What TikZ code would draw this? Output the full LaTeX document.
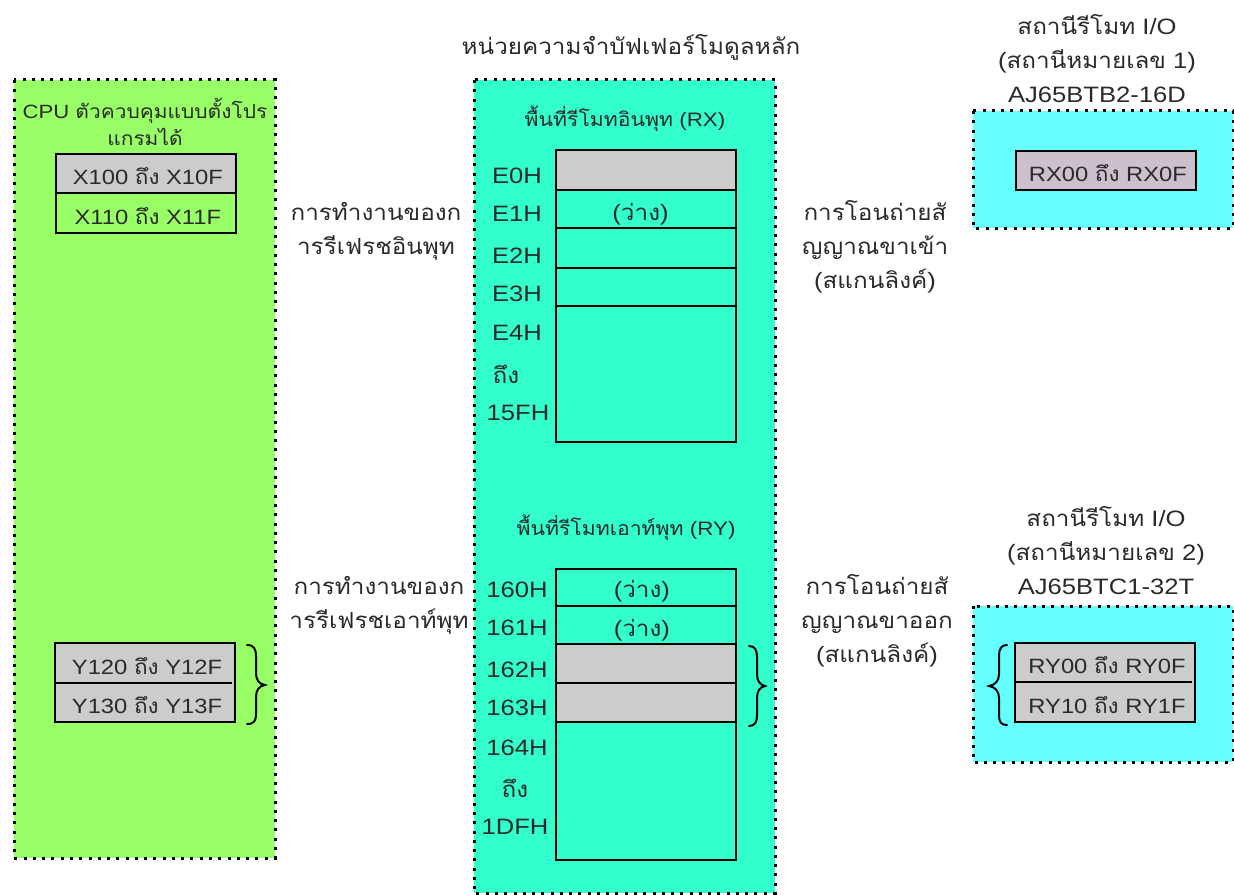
\documentclass[tikz,border=0pt]{standalone}
\usepackage{fontspec}
\setmainfont[FakeStretch=1.15]{Liberation Sans}
\newfontfamily\thaifont[Script=Thai,FakeStretch=1.09]{Loma}
\newcommand{\tf}[1]{{\thaifont #1}}
\definecolor{panelgreen}{HTML}{99FF66}
\definecolor{panelteal}{HTML}{33FFCC}
\definecolor{panelcyan}{HTML}{66FFFF}
\definecolor{cellgray}{HTML}{CCCCCC}
\definecolor{cellmauve}{HTML}{CCC0CC}
\definecolor{ink}{HTML}{2A2A2A}
\newcommand{\bigtxt}{\fontsize{16.7}{25.5}\selectfont}
\newcommand{\celltxt}{\fontsize{15.5}{20}\selectfont}
\newcommand{\smalltxt}{\fontsize{14.4}{20}\selectfont}
\newcommand{\subtxt}{\fontsize{14.6}{20}\selectfont}
\tikzset{
  panel/.style={line width=2.25pt,line cap=butt,dash pattern=on 2.25pt off 4.7pt,draw=black},
  cellbox/.style={draw=black,line width=1.3pt,minimum width=135pt,inner sep=0pt,anchor=north west,text=ink,font=\celltxt},
  plainbox/.style={cellbox,draw=none,outer sep=0pt},
  txt/.style={text=ink,inner sep=0pt,align=center,font=\bigtxt},
  brace/.style={draw=black,line width=1.5pt,line cap=round,fill=none},
  outline/.style={draw=black,line width=1.3pt},
}
% #1 name, #2 corner, #3 height px, #4 fill, #5 text
\newcommand{\cellat}[5]{\node[cellbox,minimum height=#3*0.75pt,fill=#4] (#1) at (#2) {#5};}
\newcommand{\plainat}[5]{\node[plainbox,minimum height=#3*0.75pt,fill=#4] (#1) at (#2) {#5};}
% cell text, lowered and nudged to the right as printed
\newcommand{\celltext}[1]{\hspace{3pt}\smash{\raisebox{-8.4pt}{#1}}}
% "(free)" label, lowered and nudged to the left
\newcommand{\freetext}[2]{\smash{\raisebox{-#2}{\fontsize{16.7}{20}\selectfont(\tf{ว่าง})}}\rule{#1}{0pt}}
\begin{document}
\begin{tikzpicture}[x=0.75pt,y=-0.75pt,font=\bigtxt]
\useasboundingbox (0,0) rectangle (1234,895);
% panels
\fill[panelgreen] (14,80) rectangle (275,858);
\draw[panel] (14,80) rectangle (275,858);
\fill[panelteal] (474,80) rectangle (775,893);
\draw[panel] (474,80) rectangle (775,893);
\fill[panelcyan] (973,111) rectangle (1233,228);
\draw[panel] (973,111) rectangle (1233,228);
\fill[panelcyan] (973,606) rectangle (1233,762);
\draw[panel] (973,606) rectangle (1233,762);
% titles
\node[txt] (maintitle) at (631,47) {\tf{หน่วยความจำบัฟเฟอร์โมดูลหลัก}};
\node[txt] (st1) at (1097,59) {\tf{สถานีรีโมท} I/O\\(\tf{สถานีหมายเลข} 1)\\AJ65BTB2-16D};
\node[txt] (st2) at (1106,551) {\tf{สถานีรีโมท} I/O\\(\tf{สถานีหมายเลข} 2)\\AJ65BTC1-32T};
\node[txt,font=\smalltxt] (cpu) at (145,122) {CPU \tf{ตัวควบคุมแบบตั้งโปร}\\\tf{แกรมได้}};
\node[txt] (refin) at (376,231) {\tf{การทำงานของก}\\\tf{ารรีเฟรชอินพุท}};
\node[txt] (refout) at (379,605) {\tf{การทำงานของก}\\\tf{ารรีเฟรชเอาท์พุท}};
\node[txt] (xferin) at (875,247) {\tf{การโอนถ่ายสั}\\\tf{ญญาณขาเข้า}\\(\tf{สแกนลิงค์})};
\node[txt] (xferout) at (877,621) {\tf{การโอนถ่ายสั}\\\tf{ญญาณขาออก}\\(\tf{สแกนลิงค์})};
\node[txt,font=\subtxt] (rxtitle) at (625,119) {\tf{พื้นที่รีโมทอินพุท} (RX)};
\node[txt,font=\subtxt] (rytitle) at (626,528) {\tf{พื้นที่รีโมทเอาท์พุท} (RY)};
% X / Y boxes
\cellat{x1}{55,153}{39}{cellgray}{\celltext{X100 \tf{ถึง} X10F}}
\cellat{x2}{55,192}{40}{panelgreen}{\celltext{X110 \tf{ถึง} X11F}}
\plainat{y1}{55,643}{40}{cellgray}{\celltext{Y120 \tf{ถึง} Y12F}}
\plainat{y2}{55,683}{39}{cellgray}{\celltext{Y130 \tf{ถึง} Y13F}}
\draw[outline] (y1.north west) rectangle (y2.south east);
\draw[outline] (y1.south west) -- ([xshift=-2.5pt]y1.south east);
% RX table
\cellat{rx0}{555,149}{40}{cellgray}{}
\cellat{rx1}{555,189}{38}{panelteal}{\freetext{8pt}{9pt}}
\cellat{rx2}{555,227}{40}{panelteal}{}
\cellat{rx3}{555,267}{38}{panelteal}{}
\cellat{rx4}{555,305}{136}{panelteal}{}
% RY table
\cellat{ry0}{555,568}{37}{panelteal}{\freetext{6pt}{7.8pt}}
\cellat{ry1}{555,605}{38}{panelteal}{\freetext{6pt}{9pt}}
\cellat{ry2}{555,643}{39}{cellgray}{}
\cellat{ry3}{555,682}{39}{cellgray}{}
\cellat{ry4}{555,721}{138}{panelteal}{}
% station boxes
\cellat{rxs}{1015,150}{39}{cellmauve}{\celltext{RX00 \tf{ถึง} RX0F}}
\plainat{rys1}{1015,643}{39}{cellgray}{\celltext{RY00 \tf{ถึง} RY0F}}
\plainat{rys2}{1015,682}{40}{cellgray}{\celltext{RY10 \tf{ถึง} RY1F}}
\draw[outline] (rys1.north west) rectangle (rys2.south east);
\draw[outline] (rys1.south west) -- ([xshift=-2.5pt]rys1.south east);
% address labels
\node[txt] (a0) at (517,176) {E0H};
\node[txt] (a1) at (517,214) {E1H};
\node[txt] (a2) at (517,256) {E2H};
\node[txt] (a3) at (517,294) {E3H};
\node[txt] (a4) at (517,333) {E4H};
\node[txt] (a5) at (506,374) {\tf{ถึง}};
\node[txt] (a6) at (518,413) {15FH};
\node[txt] (b0) at (517,590) {160H};
\node[txt] (b1) at (517,628) {161H};
\node[txt] (b2) at (517,670) {162H};
\node[txt] (b3) at (517,708) {163H};
\node[txt] (b4) at (517,748) {164H};
\node[txt] (b5) at (515,788) {\tf{ถึง}};
\node[txt] (b6) at (515,827) {1DFH};
% braces
\draw[brace] (247,645) .. controls (254,645) and (256,649) .. (256,656) -- (256,673) .. controls (256,680) and (259,684) .. (265,685) .. controls (259,686) and (256,690) .. (256,697) -- (256,714) .. controls (256,721) and (254,724) .. (247,724);
\draw[brace] (749,646) .. controls (755,646) and (757,650) .. (757,657) -- (757,674) .. controls (757,681) and (760,685) .. (765,686) .. controls (760,687) and (757,691) .. (757,698) -- (757,715) .. controls (757,722) and (755,726) .. (749,726);
\draw[brace] (1007,645) .. controls (1001,645) and (999,649) .. (999,656) -- (999,674) .. controls (999,681) and (995,685) .. (989,686) .. controls (995,687) and (999,691) .. (999,698) -- (999,715) .. controls (999,722) and (1001,725) .. (1007,725);
\end{tikzpicture}
\end{document}
